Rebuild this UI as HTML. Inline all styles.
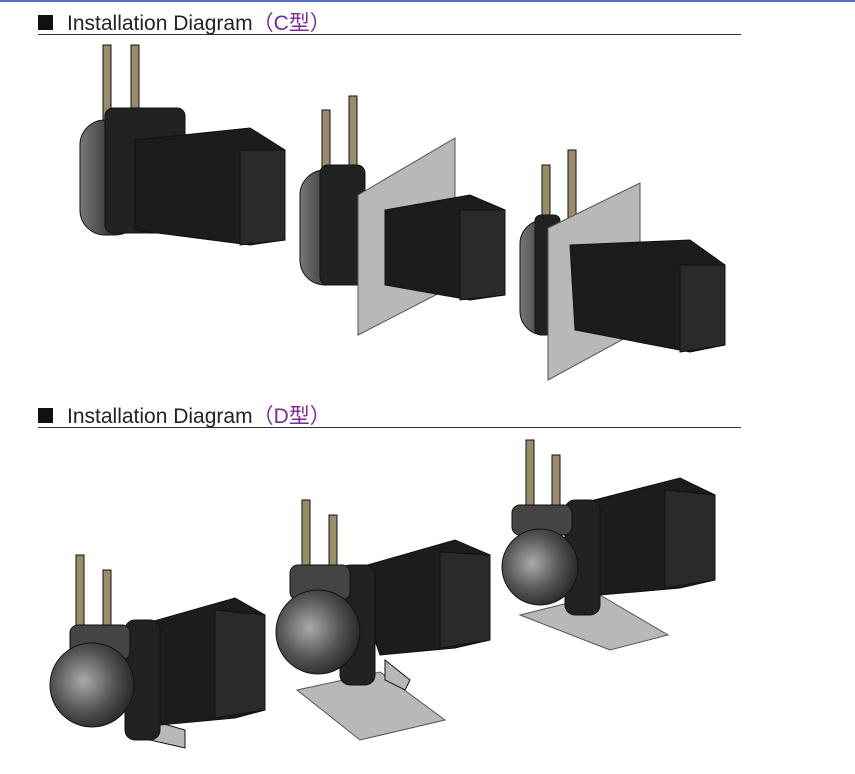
<!DOCTYPE html>
<html><head><meta charset="utf-8"><style>
html,body{margin:0;padding:0;background:#fff;}
body{width:855px;height:774px;overflow:hidden;position:relative;font-family:"Liberation Sans","Noto Sans CJK SC",sans-serif;}
.t{position:absolute;left:38px;font-size:21px;color:#222;}
.t b{display:inline-block;width:15px;height:15px;background:#111;margin-right:14px;vertical-align:0px;}
.t span{color:#7a2a9a;}
.rule{position:absolute;left:38px;width:703px;height:1px;background:#333;}
</style></head><body>
<div style="position:absolute;left:0;top:0;width:855px;height:2px;background:#5570c8"></div>
<div class="t" style="top:7px"><b></b>Installation Diagram<span>（C型）</span></div>
<div class="rule" style="top:34px"></div>
<div class="t" style="top:400px"><b></b>Installation Diagram<span>（D型）</span></div>
<div class="rule" style="top:427px"></div>
<svg width="855" height="774" style="position:absolute;left:0;top:0">
<defs>
<linearGradient id="hd" x1="0" x2="1"><stop offset="0" stop-color="#777"/><stop offset="0.5" stop-color="#3a3a3a"/><stop offset="1" stop-color="#222"/></linearGradient>
<radialGradient id="cap" cx="0.4" cy="0.45" r="0.6"><stop offset="0" stop-color="#aaa"/><stop offset="0.6" stop-color="#555"/><stop offset="1" stop-color="#2a2a2a"/></radialGradient>
</defs>
<g stroke="#111" stroke-width="1">
<rect x="103" y="45" width="8" height="80" fill="#9a8c6a"/><rect x="131" y="45" width="8" height="75" fill="#9a8c6a"/>
<rect x="80" y="120" width="60" height="115" rx="25" fill="url(#hd)"/>
<rect x="105" y="108" width="80" height="125" rx="8" fill="#222"/>
<polygon points="135,140 250,128 285,150 285,240 250,245 135,230" fill="#1c1c1c"/>
<polygon points="240,150 285,150 285,240 240,245" fill="#2a2a2a"/>
<rect x="322" y="110" width="8" height="70" fill="#9a8c6a"/><rect x="349" y="96" width="8" height="80" fill="#9a8c6a"/>
<rect x="300" y="170" width="55" height="115" rx="25" fill="url(#hd)"/>
<rect x="320" y="165" width="45" height="120" rx="8" fill="#222"/>
<polygon points="358,195 455,138 455,285 358,335" fill="#b8b8b8" stroke="#555"/>
<polygon points="385,210 470,195 505,210 505,295 470,300 385,285" fill="#1c1c1c"/>
<polygon points="460,210 505,210 505,295 460,300" fill="#2a2a2a"/>
<rect x="542" y="165" width="8" height="65" fill="#9a8c6a"/><rect x="568" y="150" width="8" height="75" fill="#9a8c6a"/>
<rect x="520" y="220" width="50" height="115" rx="24" fill="url(#hd)"/>
<rect x="535" y="215" width="25" height="120" rx="6" fill="#222"/>
<polygon points="548,228 640,183 640,330 548,380" fill="#b8b8b8" stroke="#555"/>
<polygon points="570,245 690,240 725,265 725,345 690,352 575,330" fill="#1c1c1c"/>
<polygon points="680,265 725,265 725,345 680,352" fill="#2a2a2a"/>
<rect x="76" y="555" width="8" height="85" fill="#9a8c6a"/><rect x="103" y="570" width="8" height="70" fill="#9a8c6a"/>
<polygon points="150,720 185,730 185,748 150,740" fill="#b8b8b8"/>
<polygon points="140,625 235,598 265,615 265,710 235,718 160,725" fill="#1c1c1c"/>
<polygon points="215,610 265,615 265,710 215,718" fill="#2a2a2a"/>
<rect x="125" y="620" width="35" height="120" rx="10" fill="#222"/>
<rect x="70" y="625" width="60" height="35" rx="8" fill="#444"/>
<circle cx="92" cy="685" r="42" fill="url(#cap)"/>
<polygon points="297,690 380,672 445,720 360,740" fill="#b8b8b8" stroke="#555"/>
<rect x="302" y="500" width="8" height="85" fill="#9a8c6a"/><rect x="329" y="515" width="8" height="70" fill="#9a8c6a"/>
<polygon points="350,570 455,540 490,555 490,640 455,648 380,655" fill="#1c1c1c"/>
<polygon points="440,552 490,555 490,640 440,648" fill="#2a2a2a"/>
<rect x="340" y="565" width="35" height="120" rx="10" fill="#222"/>
<polygon points="385,660 410,680 405,690 385,680" fill="#b8b8b8"/>
<rect x="290" y="565" width="60" height="35" rx="8" fill="#444"/>
<circle cx="318" cy="632" r="42" fill="url(#cap)"/>
<polygon points="520,615 600,595 668,635 610,650" fill="#b8b8b8" stroke="#555"/>
<rect x="526" y="440" width="8" height="85" fill="#9a8c6a"/><rect x="552" y="455" width="8" height="70" fill="#9a8c6a"/>
<polygon points="575,505 680,478 715,495 715,580 680,588 600,595" fill="#1c1c1c"/>
<polygon points="665,490 715,495 715,580 665,588" fill="#2a2a2a"/>
<rect x="565" y="500" width="35" height="115" rx="10" fill="#222"/>
<rect x="512" y="505" width="60" height="30" rx="8" fill="#444"/>
<circle cx="540" cy="567" r="38" fill="url(#cap)"/>
</g>
</svg>
</body></html>
